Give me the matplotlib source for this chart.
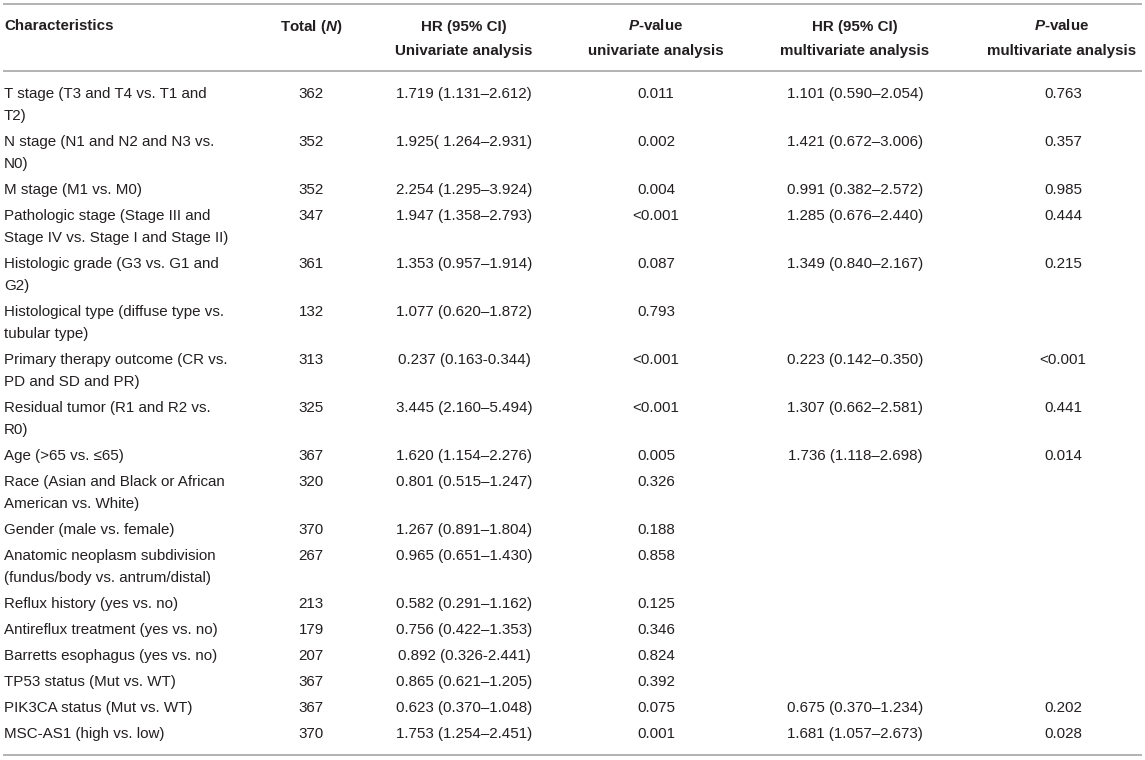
import matplotlib
matplotlib.use("Agg")
import matplotlib.pyplot as plt

plt.rcParams['font.family'] = ['Liberation Sans', 'DejaVu Sans']
plt.rcParams['mathtext.fontset'] = 'custom'
plt.rcParams['mathtext.rm'] = 'Liberation Sans:bold'
plt.rcParams['mathtext.it'] = 'Liberation Sans:bold:italic'
plt.rcParams['mathtext.bf'] = 'Liberation Sans:bold'

# ---- data ----
header_line1 = ["Characteristics", "Total ($\\mathit{N}$)", "HR (95% CI)",
                "$\\mathit{P}$-value", "HR (95% CI)", "$\\mathit{P}$-value"]
header_line2 = ["", "", "Univariate analysis", "univariate analysis",
                "multivariate analysis", "multivariate analysis"]

characteristics = [
    "T stage (T3 and T4 vs. T1 and\nT2)",
    "N stage (N1 and N2 and N3 vs.\nN0)",
    "M stage (M1 vs. M0)",
    "Pathologic stage (Stage III and\nStage IV vs. Stage I and Stage II)",
    "Histologic grade (G3 vs. G1 and\nG2)",
    "Histological type (diffuse type vs.\ntubular type)",
    "Primary therapy outcome (CR vs.\nPD and SD and PR)",
    "Residual tumor (R1 and R2 vs.\nR0)",
    "Age (>65 vs. \u226465)",
    "Race (Asian and Black or African\nAmerican vs. White)",
    "Gender (male vs. female)",
    "Anatomic neoplasm subdivision\n(fundus/body vs. antrum/distal)",
    "Reflux history (yes vs. no)",
    "Antireflux treatment (yes vs. no)",
    "Barretts esophagus (yes vs. no)",
    "TP53 status (Mut vs. WT)",
    "PIK3CA status (Mut vs. WT)",
    "MSC-AS1 (high vs. low)",
]
totals = ["362", "352", "352", "347", "361", "132", "313", "325", "367",
          "320", "370", "267", "213", "179", "207", "367", "367", "370"]
hr_uni = ["1.719 (1.131\u20132.612)", "1.925( 1.264\u20132.931)", "2.254 (1.295\u20133.924)",
          "1.947 (1.358\u20132.793)", "1.353 (0.957\u20131.914)", "1.077 (0.620\u20131.872)",
          "0.237 (0.163-0.344)", "3.445 (2.160\u20135.494)", "1.620 (1.154\u20132.276)",
          "0.801 (0.515\u20131.247)", "1.267 (0.891\u20131.804)", "0.965 (0.651\u20131.430)",
          "0.582 (0.291\u20131.162)", "0.756 (0.422\u20131.353)", "0.892 (0.326-2.441)",
          "0.865 (0.621\u20131.205)", "0.623 (0.370\u20131.048)", "1.753 (1.254\u20132.451)"]
p_uni = ["0.011", "0.002", "0.004", "<0.001", "0.087", "0.793", "<0.001", "<0.001",
         "0.005", "0.326", "0.188", "0.858", "0.125", "0.346", "0.824", "0.392",
         "0.075", "0.001"]
hr_multi = ["1.101 (0.590\u20132.054)", "1.421 (0.672\u20133.006)", "0.991 (0.382\u20132.572)",
            "1.285 (0.676\u20132.440)", "1.349 (0.840\u20132.167)", "",
            "0.223 (0.142\u20130.350)", "1.307 (0.662\u20132.581)", "1.736 (1.118\u20132.698)",
            "", "", "", "", "", "", "",
            "0.675 (0.370\u20131.234)", "1.681 (1.057\u20132.673)"]
p_multi = ["0.763", "0.357", "0.985", "0.444", "0.215", "", "<0.001", "0.441",
           "0.014", "", "", "", "", "", "", "", "0.202", "0.028"]

# ---- layout (pixels) ----
W, H = 1145, 760
fig = plt.figure(figsize=(W / 100, H / 100), dpi=100)
ax = fig.add_axes([0, 0, 1, 1])
ax.set_xlim(0, W)
ax.set_ylim(H, 0)
ax.axis('off')

txt_color = '#231f20'
line_color = '#a6a6a6'
fs = 10.9
col_x = [4, 311, 464, 656, 855, 1063]
head_x = [4, 311, 464, 656, 855, 1062]
col_ha = ['left', 'center', 'center', 'center', 'center', 'center']

# rules
for y in (4, 71, 755):
    ax.plot([3, 1142], [y, y], color=line_color, lw=1.2, solid_capstyle='butt')

# header (baseline aligned)
for i in range(6):
    ax.text(head_x[i], 30.5, header_line1[i], ha=col_ha[i], va='baseline',
            fontsize=fs, fontweight='bold', color=txt_color)
    if header_line2[i]:
        ax.text(head_x[i], 55.5, header_line2[i], ha=col_ha[i], va='baseline',
                fontsize=fs, fontweight='bold', color=txt_color)

# body
y = 94
line_gap = 22
row_gap = 26
columns = [characteristics, totals, hr_uni, p_uni, hr_multi, p_multi]
for r in range(len(characteristics)):
    lines = characteristics[r].split("\n")
    for k, ln in enumerate(lines):
        ax.text(col_x[0], y + k * line_gap, ln, ha='left', va='center',
                fontsize=fs, color=txt_color)
    for c in range(1, 6):
        val = columns[c][r]
        if val:
            ax.text(col_x[c], y, val, ha=col_ha[c], va='center',
                    fontsize=fs, color=txt_color)
    y += row_gap + line_gap * (len(lines) - 1)

fig.savefig("out.png", dpi=100)
